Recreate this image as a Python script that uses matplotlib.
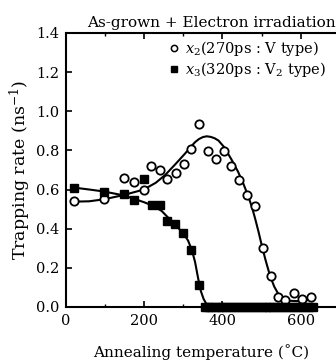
import matplotlib
matplotlib.use("Agg")
import matplotlib.pyplot as plt
from matplotlib.lines import Line2D
from matplotlib.ticker import MultipleLocator

plt.rcParams['font.family'] = ['DejaVu Serif']
plt.rcParams['mathtext.fontset'] = 'dejavuserif'

# x2 (270ps : V type) - open circles
temp_v = [20, 97, 148, 173, 199, 218, 240, 258, 281, 302, 320, 341, 363, 384, 403,
          422, 441, 463, 482, 503, 523, 543, 561, 583, 604, 625]
rate_v = [0.54, 0.55, 0.66, 0.64, 0.60, 0.72, 0.70, 0.655, 0.685, 0.73, 0.805, 0.935,
          0.795, 0.755, 0.795, 0.72, 0.65, 0.57, 0.515, 0.30, 0.16, 0.05, 0.035, 0.07,
          0.04, 0.05]
# fitted curve for x2
fit_v_t = [20, 60, 97, 148, 199, 230, 254, 280, 305, 320, 330, 340, 350, 360, 370,
           380, 390, 405, 424, 440, 453, 465, 475, 483, 492, 500, 510, 521, 532, 543,
           555, 568, 590, 610, 630]
fit_v_r = [0.538, 0.54, 0.55, 0.572, 0.60, 0.635, 0.675, 0.73, 0.785, 0.82, 0.842,
           0.858, 0.868, 0.872, 0.869, 0.862, 0.85, 0.815, 0.75, 0.69, 0.632, 0.57,
           0.512, 0.455, 0.385, 0.318, 0.24, 0.163, 0.105, 0.065, 0.042, 0.032, 0.03,
           0.033, 0.038]

# x3 (320ps : V2 type) - filled squares
temp_v2 = [20, 97, 148, 173, 200, 220, 241, 258, 278, 300, 320, 341,
           355, 363, 372, 381, 390, 400, 410, 420, 430, 440, 450, 460, 470, 480, 490,
           500, 510, 520, 530, 540, 550, 560, 570, 580, 590, 600, 610, 620, 630]
rate_v2 = [0.61, 0.585, 0.575, 0.545, 0.655, 0.52, 0.52, 0.44, 0.425, 0.38, 0.29, 0.11,
           0, 0, 0, 0, 0, 0, 0, 0, 0, 0, 0, 0, 0, 0, 0,
           0, 0, 0, 0, 0, 0, 0, 0, 0, 0, 0, 0, 0, 0]
# fitted curve for x3
fit_v2_t = [20, 60, 97, 148, 200, 225, 245, 262, 280, 300, 312, 322, 330, 338, 345,
            352, 360, 368, 380, 630]
fit_v2_r = [0.61, 0.60, 0.59, 0.57, 0.535, 0.515, 0.49, 0.455, 0.42, 0.375, 0.34,
            0.29, 0.23, 0.145, 0.08, 0.04, 0.012, 0.0, 0.0, 0.0]

xticks = [0, 200, 400, 600]
yticks = [0.0, 0.2, 0.4, 0.6, 0.8, 1.0, 1.2, 1.4]

fig = plt.figure(figsize=(3.36, 3.62), dpi=100)
ax = fig.add_axes([0.196, 0.152, 0.804, 0.757])

ax.plot(fit_v_t, fit_v_r, '-', color='black', lw=1.5, zorder=2)
ax.plot(fit_v2_t, fit_v2_r, '-', color='black', lw=1.5, zorder=2)
ax.plot(temp_v, rate_v, 'o', ms=6, mfc='white', mec='black', mew=1.3, zorder=3,
        clip_on=False)
ax.plot(temp_v2, rate_v2, 's', ms=6, mfc='black', mec='black', zorder=3,
        clip_on=False)

ax.set_xlim(0, 690)
ax.set_ylim(0, 1.4)
ax.set_xticks(xticks)
ax.xaxis.set_minor_locator(MultipleLocator(100))
ax.set_yticks(yticks)
ax.set_yticklabels(['%.1f' % v for v in yticks])
ax.spines['right'].set_visible(False)
for s in ['left', 'bottom', 'top']:
    ax.spines[s].set_linewidth(1.5)
ax.tick_params(direction='in', length=4, width=1.2, labelsize=10.5, top=True, pad=5)
ax.tick_params(which='minor', direction='in', length=2.5, width=1, top=True)

ax.set_xlabel('Annealing temperature (\u02daC)', fontsize=11, labelpad=12)
ax.set_ylabel('Trapping rate (ns$^{-1}$)', fontsize=12.5, labelpad=2)
ax.set_title('As-grown + Electron irradiation', fontsize=11, loc='right', pad=4, x=1.0)

handles = [Line2D([], [], ls='none', marker='o', ms=4.5, mfc='white', mec='black', mew=1.1),
           Line2D([], [], ls='none', marker='s', ms=4.5, mfc='black', mec='black')]
labels = ['$x_2$(270ps : V type)', '$x_3$(320ps : V$_2$ type)']
ax.legend(handles, labels, loc='upper right', frameon=False, fontsize=10.5,
          handlelength=0.8, handletextpad=0.4, borderaxespad=0.0, labelspacing=0.15,
          bbox_to_anchor=(0.985, 1.0))

fig.savefig('out.png', dpi=100)
